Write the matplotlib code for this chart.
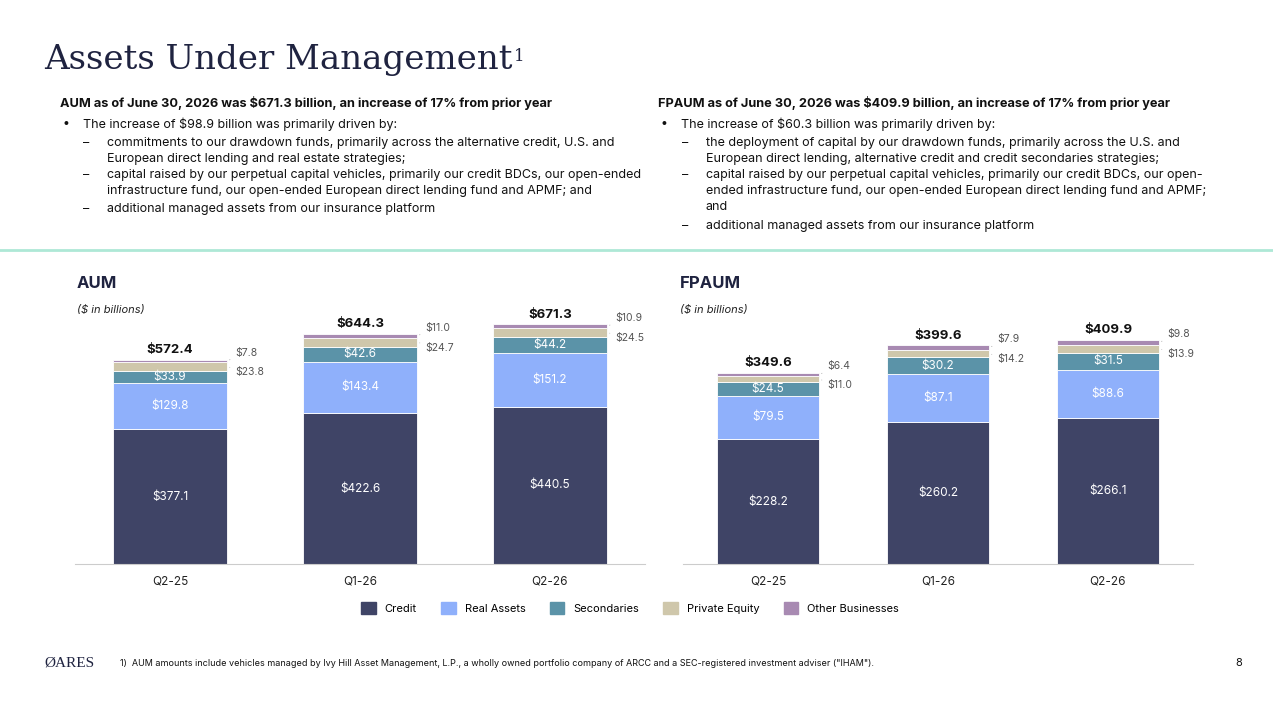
import matplotlib.pyplot as plt
from matplotlib.patches import Patch
from matplotlib.lines import Line2D

periods = ['Q2-25', 'Q1-26', 'Q2-26']
segments = ['Credit', 'Real Assets', 'Secondaries', 'Private Equity', 'Other Businesses']
colors = ['#3f4466', '#8fb0fb', '#5b93a8', '#cfc7ab', '#a88ab2']

aum = {
    'Credit': [377.1, 422.6, 440.5],
    'Real Assets': [129.8, 143.4, 151.2],
    'Secondaries': [33.9, 42.6, 44.2],
    'Private Equity': [23.8, 24.7, 24.5],
    'Other Businesses': [7.8, 11.0, 10.9],
}
aum_total = [572.4, 644.3, 671.3]

fpaum = {
    'Credit': [228.2, 260.2, 266.1],
    'Real Assets': [79.5, 87.1, 88.6],
    'Secondaries': [24.5, 30.2, 31.5],
    'Private Equity': [11.0, 14.2, 13.9],
    'Other Businesses': [6.4, 7.9, 9.8],
}
fpaum_total = [349.6, 399.6, 409.9]

W, H = 1273, 713
plt.rcParams['font.family'] = ['Inter', 'DejaVu Sans']
fig = plt.figure(figsize=(W / 100, H / 100), dpi=100)


def px(x, y):
    return x / W, 1 - y / H


def t(x, y, s, **kw):
    return fig.text(*px(x, y), s, va='center', **kw)


# title and separator
title = t(44, 60, 'Assets Under Management', fontsize=24.5, family='DejaVu Serif', color='#1f2340')
fig.canvas.draw()
bb = title.get_window_extent()
fig.text(bb.x1 / W + 0.001, (bb.y1 - 4) / H, '1', fontsize=12, va='top',
         family='DejaVu Serif', color='#1f2340')
fig.add_artist(Line2D([0, 1], [1 - 250 / H] * 2, color='#aee8d6', lw=2))

left = [
    (107, 124, 'The increase of $98.9 billion was primarily driven by:', True),
    (107, 143, 'commitments to our drawdown funds, primarily across the alternative credit, U.S. and', False),
    (107, 159, 'European direct lending and real estate strategies;', None),
    (107, 175, 'capital raised by our perpetual capital vehicles, primarily our credit BDCs, our open-ended', False),
    (107, 191, 'infrastructure fund, our open-ended European direct lending fund and APMF; and', None),
    (107, 209, 'additional managed assets from our insurance platform', False),
]
right = [
    (682, 124, 'The increase of $60.3 billion was primarily driven by:', True),
    (706, 143, 'the deployment of capital by our drawdown funds, primarily across the U.S. and', False),
    (706, 159, 'European direct lending, alternative credit and credit secondaries strategies;', None),
    (706, 175, 'capital raised by our perpetual capital vehicles, primarily our credit BDCs, our open-', False),
    (706, 191, 'ended infrastructure fund, our open-ended European direct lending fund and APMF;', None),
    (706, 207, 'and', None),
    (706, 226, 'additional managed assets from our insurance platform', False),
]
t(60, 103, 'AUM as of June 30, 2026 was $671.3 billion, an increase of 17% from prior year',
  fontsize=9.2, weight='bold', color='#111')
t(658, 103, 'FPAUM as of June 30, 2026 was $409.9 billion, an increase of 17% from prior year',
  fontsize=9.2, weight='bold', color='#111')
for lines, bx in ((left, 60), (right, 658)):
    for x, y, s, bullet in lines:
        if bullet is True:
            x = bx + 23
            t(bx + 2, y, '•', fontsize=9, color='#111')
        elif bullet is False:
            t(x - 24, y, '–', fontsize=9, color='#111')
        t(x, y, s, fontsize=9, color='#111')


def stack_chart(rect, data, totals, ymax, name, tx):
    ax = fig.add_axes(rect)
    xs = range(len(periods))
    bottom = [0] * len(periods)
    for seg, c in zip(segments, colors):
        vals = data[seg]
        ax.bar(xs, vals, 0.6, bottom=bottom, color=c, edgecolor='white', linewidth=0.6)
        for i, v in enumerate(vals):
            yc = bottom[i] + v / 2
            if v >= 0.045 * ymax:
                ax.text(i, yc, f'${v:.1f}', ha='center', va='center', fontsize=8.5, color='white')
            else:
                dy = 6 if seg == 'Other Businesses' else -4
                ax.annotate(f'${v:.1f}', (i + 0.3, yc), xytext=(6, dy), textcoords='offset points',
                            ha='left', va='center', fontsize=7.5, color='#555',
                            arrowprops=dict(arrowstyle='-', color='#999', lw=0.5))
        bottom = [b + v for b, v in zip(bottom, vals)]
    for i, tot in enumerate(totals):
        ax.text(i, tot + ymax * 0.015, f'${tot:.1f}', ha='center', va='bottom', fontsize=9.5,
                weight='bold', color='#111')
    ax.set_xlim(-0.5, 2.5)
    ax.set_ylim(0, ymax)
    ax.set_xticks(list(xs), periods, fontsize=8.5, color='#222')
    ax.tick_params(length=0, pad=8)
    ax.set_yticks([])
    for s in ('top', 'right', 'left'):
        ax.spines[s].set_visible(False)
    ax.spines['bottom'].set_color('#cccccc')
    t(tx, 283, name, fontsize=12, weight='bold', color='#1f2340')
    t(tx, 310, '($ in billions)', fontsize=8, style='italic', color='#222')


stack_chart([75 / W, 1 - 564 / H, 570 / W, 250 / H], aum, aum_total, 700, 'AUM', 77)
stack_chart([683 / W, 1 - 564 / H, 510 / W, 250 / H], fpaum, fpaum_total, 457, 'FPAUM', 680)

handles = [Patch(color=c) for c in colors]
fig.legend(handles, segments, loc='center', bbox_to_anchor=px(630, 608), ncol=5,
           frameon=False, fontsize=8, handlelength=1.3, handleheight=1.3, columnspacing=2.2)

t(44, 663, 'ØARES', fontsize=11, family='Liberation Serif', color='#1f2340')
t(120, 663, '1)  AUM amounts include vehicles managed by Ivy Hill Asset Management, L.P., a wholly owned '
  'portfolio company of ARCC and a SEC-registered investment adviser ("IHAM").', fontsize=6.5, color='#111')
t(1235, 663, '8', fontsize=8, color='#111')

fig.savefig('out.png', dpi=100, facecolor='white')
